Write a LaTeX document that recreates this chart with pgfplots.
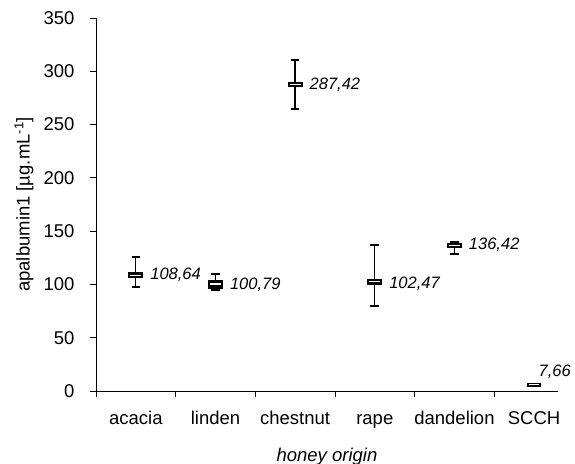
\documentclass[border=0pt]{standalone}
\usepackage{pgfplots}
\pgfplotsset{compat=1.18}
\usepackage{fontspec}
\setmainfont{Liberation Sans}
\newcommand\F{\fontsize{18.5bp}{21bp}\selectfont}
\newcommand\G{\fontsize{16.5bp}{19bp}\selectfont}
\pgfdeclareplotmark{hbox}{%
  \pgfpathrectangle{\pgfqpoint{-7.5bp}{-2.8bp}}{\pgfqpoint{15bp}{5.6bp}}%
  \pgfsetfillcolor{black}\pgfusepathqfill
  \pgfsetstrokecolor{white}\pgfsetlinewidth{1.3bp}%
  \pgfpathmoveto{\pgfqpoint{-5.5bp}{0bp}}\pgfpathlineto{\pgfqpoint{5.5bp}{0bp}}%
  \pgfusepathqstroke}
\pgfdeclareplotmark{hboxL}{%
  \pgfpathrectangle{\pgfqpoint{-7.5bp}{-4.5bp}}{\pgfqpoint{15bp}{9bp}}%
  \pgfsetfillcolor{black}\pgfusepathqfill
  \pgfsetstrokecolor{white}\pgfsetlinewidth{1.3bp}%
  \pgfpathmoveto{\pgfqpoint{-5.5bp}{0.3bp}}\pgfpathlineto{\pgfqpoint{5.5bp}{0.3bp}}%
  \pgfusepathqstroke}
\pgfdeclareplotmark{hboxS}{%
  \pgfpathrectangle{\pgfqpoint{-7bp}{-2bp}}{\pgfqpoint{14bp}{4bp}}%
  \pgfsetfillcolor{black}\pgfusepathqfill
  \pgfsetstrokecolor{white}\pgfsetlinewidth{0.8bp}%
  \pgfpathmoveto{\pgfqpoint{-5bp}{0bp}}\pgfpathlineto{\pgfqpoint{5bp}{0bp}}%
  \pgfusepathqstroke}
\pgfplotstableread{
x y ep em
0 108.64 16.9 11.3
1 100.79 8.7 6.3
2 287.42 23.2 22.8
3 102.47 34.5 22.7
4 136.42 3.6 7.9
}\datatable
\begin{document}
\begin{tikzpicture}
\begin{axis}[
  at={(0,0)}, anchor=south west,
  scale only axis, width=462bp, height=373bp,
  xmin=-0.5, xmax=5.3, ymin=0, ymax=350,
  axis x line*=bottom, axis y line*=left,
  axis line style={-, line width=0.8bp, black},
  xtick={0,1,2,3,4,5},
  xticklabels={acacia,linden,chestnut,rape,dandelion,SCCH},
  minor xtick={-0.5,0.5,1.5,2.5,3.5,4.5},
  ytick={0,50,...,350},
  tick align=outside,
  major tick length=6bp, minor tick length=6bp,
  major x tick style={draw=none},
  minor x tick style={black, line width=0.8bp},
  major y tick style={black, line width=0.8bp},
  /pgf/number format/assume math mode=true,
  tick label style={font=\F},
  xticklabel style={text height=13bp, text depth=4bp, yshift=-11bp},
  yticklabel style={xshift=-12bp},
  xlabel={\itshape honey origin},
  ylabel={apalbumin1 [µg.mL\textsuperscript{-1}]},
  label style={font=\F},
  xlabel style={at={(axis description cs:0.5,0)}, anchor=base, yshift=-70bp},
  ylabel style={at={(axis description cs:0,0.5)}, anchor=center, yshift=72bp},
  clip=false,
]
% whiskers
\addplot[draw=none, mark=none,
  error bars/.cd, y dir=both, y explicit,
  error bar style={black, line width=1.3bp},
  error mark options={black, rotate=90, line width=2.2bp, mark size=4.3bp}]
  table[x=x, y=y, y error plus=ep, y error minus=em] {\datatable};
% boxes
\addplot[only marks, mark=hbox] coordinates {(0,108.64) (2,287.42) (3,102.47) (4,136.42)};
\addplot[only marks, mark=hboxL] coordinates {(1,100.0)};
\addplot[only marks, mark=hboxS] coordinates {(5,6.0)};
% value labels
\addplot[draw=none, mark=none, nodes near coords, point meta=explicit symbolic,
  nodes near coords style={anchor=west, font=\G\itshape, xshift=11bp}]
  table[x=x, y=y, meta=lab] {
x y lab
0 108.64 108,64
1 99.8 100,79
2 287.42 287,42
3 100.5 102,47
4 137.5 136,42
};
\addplot[draw=none, mark=none, nodes near coords, point meta=explicit symbolic,
  nodes near coords style={anchor=base west, font=\G\itshape, xshift=1bp, yshift=6bp}]
  table[x=x, y=y, meta=lab] {
x y lab
5 7.66 7,66
};
\end{axis}
\pgfresetboundingbox
\path (-96bp,-73bp) rectangle (479bp,391bp);
\end{tikzpicture}
\end{document}
